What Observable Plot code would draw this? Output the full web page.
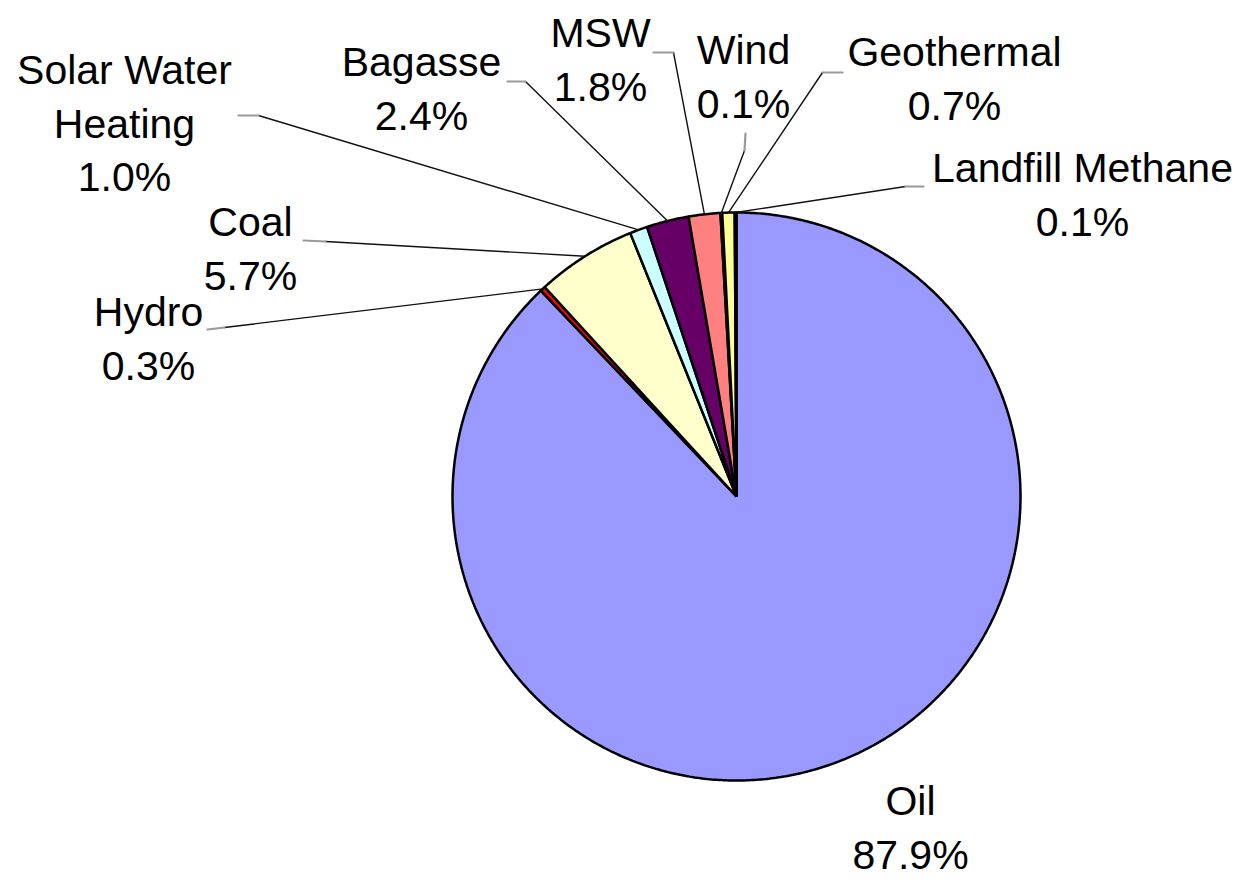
<!DOCTYPE html>
<html>
<head>
<meta charset="utf-8">
<script src="https://cdn.jsdelivr.net/npm/d3@7"></script>
<script src="https://cdn.jsdelivr.net/npm/@observablehq/plot@0.6"></script>
<style>
  html, body { margin: 0; padding: 0; background: #ffffff; }
  #chart svg { display: block; }
</style>
</head>
<body>
<div id="chart"></div>
<script>
// ---- Data ----
const names = ["Oil", "Hydro", "Coal", "Solar Water Heating", "Bagasse", "MSW", "Wind", "Geothermal", "Landfill Methane"];
const shares = [87.9, 0.3, 5.7, 1.0, 2.4, 1.8, 0.1, 0.7, 0.1];
const labelText = ["Oil", "Hydro", "Coal", "Solar Water\nHeating", "Bagasse", "MSW", "Wind", "Geothermal", "Landfill Methane"];
const sliceColors = ["#9999ff", "#ff0000", "#ffffcc", "#ccffff", "#660066", "#ff8080", "#000066", "#ffff99", "#222244"];

// ---- Layout ----
const W = 1241, H = 880;
const CX = 736, CY = 496, R = 284;           // pie centre and radius (px)
const FS = 41, LH = 1.3;                     // label font size, line height (em)
// label anchor: centre x, baseline of first line (px)
const labelAt = {
  "Oil": [910, 811],
  "Hydro": [148, 322],
  "Coal": [250, 232],
  "Solar Water Heating": [124, 80],
  "Bagasse": [421, 72],
  "MSW": [600, 43],
  "Wind": [743, 60],
  "Geothermal": [954, 62],
  "Landfill Methane": [1082, 178]
};
// leader stubs near the labels (px)
const stubAt = {
  "Hydro": [[207, 329], [224, 327]],
  "Coal": [[303, 240], [325, 241]],
  "Solar Water Heating": [[238, 115], [258, 115]],
  "Bagasse": [[507, 81], [525, 81]],
  "MSW": [[653, 52], [673, 52]],
  "Wind": [[745, 133], [744, 150]],
  "Geothermal": [[842, 72], [822, 72]],
  "Landfill Methane": [[923, 186], [905, 186]]
};

const ux = px => (px - CX) / R;
const uy = py => (CY - py) / R;

// ---- Geometry from data (angles clockwise from 12 o'clock) ----
const total = d3.sum(shares);
let cum = 0;
const slices = names.map((name, i) => {
  const a0 = cum / total * 2 * Math.PI;
  cum += shares[i];
  const a1 = cum / total * 2 * Math.PI;
  return {name, i, a0, a1, mid: (a0 + a1) / 2};
});

function slicePoints(s) {
  const pts = [{x: 0, y: 0}];
  const n = Math.max(2, Math.ceil((s.a1 - s.a0) / (Math.PI / 360)));
  for (let k = 0; k <= n; k++) {
    const a = s.a0 + (s.a1 - s.a0) * k / n;
    pts.push({x: Math.sin(a), y: Math.cos(a)});
  }
  return pts;
}

const sliceMarks = slices.map(s =>
  Plot.line(slicePoints(s), {
    x: "x", y: "y", curve: "linear-closed",
    fill: sliceColors[s.i], stroke: "#000", strokeWidth: 2.5, strokeLinejoin: "miter"
  })
);

// leader lines
const stubPts = [], diagPts = [];
slices.forEach(s => {
  const st = stubAt[s.name];
  if (!st) return;
  stubPts.push({k: s.name, x: ux(st[0][0]), y: uy(st[0][1])});
  stubPts.push({k: s.name, x: ux(st[1][0]), y: uy(st[1][1])});
  diagPts.push({k: s.name, x: ux(st[1][0]), y: uy(st[1][1])});
  diagPts.push({k: s.name, x: Math.sin(s.mid), y: Math.cos(s.mid)});
});

// labels
const labels = slices.map(s => {
  const text = labelText[s.i] + "\n" + shares[s.i].toFixed(1) + "%";
  const n = text.split("\n").length;
  const [px, base] = labelAt[s.name];
  const cy = base - 0.32 * FS + (n - 1) / 2 * LH * FS;
  return {text, x: ux(px), y: uy(cy)};
});

const chart = Plot.plot({
  width: W,
  height: H,
  margin: 0,
  x: {domain: [ux(0), ux(W)], axis: null},
  y: {domain: [uy(H), uy(0)], axis: null},
  style: {background: "#ffffff", fontFamily: "'Liberation Sans', Arial, sans-serif"},
  marks: [
    ...sliceMarks,
    Plot.line(diagPts, {x: "x", y: "y", z: "k", stroke: "#111", strokeWidth: 1.4}),
    Plot.line(stubPts, {x: "x", y: "y", z: "k", stroke: "#999", strokeWidth: 2.2}),
    Plot.text(labels, {
      x: "x", y: "y", text: "text",
      fontSize: FS, lineHeight: LH, lineAnchor: "middle", textAnchor: "middle",
      fill: "#000", fontFamily: "'Liberation Sans', Arial, sans-serif"
    })
  ]
});
document.getElementById("chart").appendChild(chart);
</script>
</body>
</html>
